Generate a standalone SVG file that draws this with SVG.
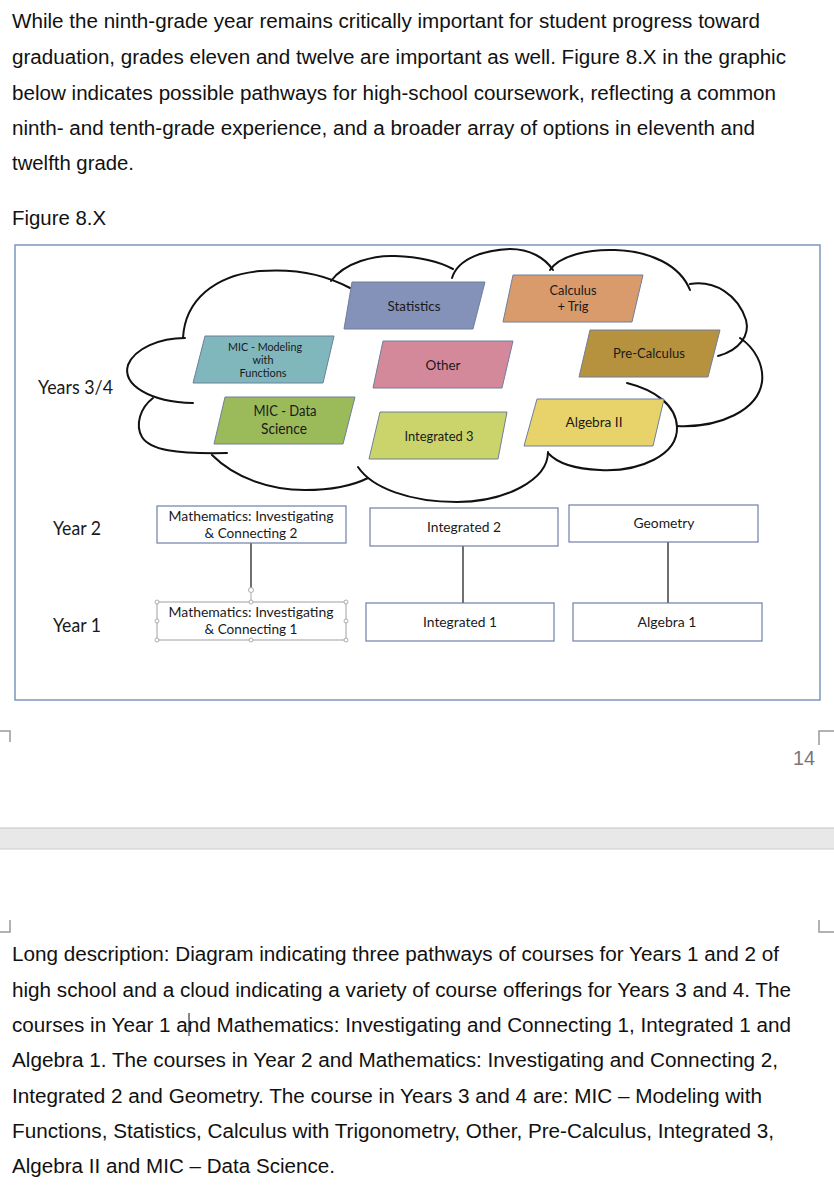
<svg xmlns="http://www.w3.org/2000/svg" width="834" height="1200" viewBox="0 0 834 1200">
<style>
.para{font-family:"Liberation Sans",Arial,sans-serif;font-size:20px;fill:#111}
.lbl{font-family:Lato,"Open Sans",sans-serif;fill:#1a1a1a;text-anchor:middle}
.year{font-family:Lato,"Open Sans",sans-serif;font-size:18.5px;fill:#1a1a1a}
.cloud{fill:none;stroke:#111;stroke-width:2;stroke-linecap:round}
.pg{stroke:#6e7f9c;stroke-width:1}
.box{fill:#fff;stroke:#6f7fa8;stroke-width:1.2}
.conn{stroke:#333;stroke-width:1.4}
.mark{fill:none;stroke:#999;stroke-width:1.5}
.hdl{fill:#fff;stroke:#999;stroke-width:0.8}
</style>
<rect width="834" height="1200" fill="#fff"/>
<g id="intro">
<text class="para" x="12" y="28" textLength="748" lengthAdjust="spacingAndGlyphs">While the ninth-grade year remains critically important for student progress toward</text>
<text class="para" x="12" y="64" textLength="774" lengthAdjust="spacingAndGlyphs">graduation, grades eleven and twelve are important as well. Figure 8.X in the graphic</text>
<text class="para" x="12" y="100" textLength="764" lengthAdjust="spacingAndGlyphs">below indicates possible pathways for high-school coursework, reflecting a common</text>
<text class="para" x="12" y="135" textLength="743" lengthAdjust="spacingAndGlyphs">ninth- and tenth-grade experience, and a broader array of options in eleventh and</text>
<text class="para" x="12" y="170" textLength="122" lengthAdjust="spacingAndGlyphs">twelfth grade.</text>
<text class="para" x="12" y="225" textLength="94" lengthAdjust="spacingAndGlyphs">Figure 8.X</text>
</g>
<rect id="frame" x="15" y="245" width="805" height="455" fill="#fff" stroke="#7b97c0" stroke-width="1.5"/>
<g id="cloud">
<path class="cloud" d="M183,338 C185,300 215,275 260,271 C300,268 330,277 350,288"/>
<path class="cloud" d="M331,281 C345,262 375,255 395,256 C420,257 440,262 453,269"/>
<path class="cloud" d="M452,278 C458,258 485,250 510,249 C530,249 545,258 553,270"/>
<path class="cloud" d="M550,270 C560,255 590,249 615,250 C650,251 680,265 690,290"/>
<path class="cloud" d="M690,284 C715,280 738,295 746,320 C750,335 740,350 718,356"/>
<path class="cloud" d="M740,338 C755,348 764,365 762,382 C758,410 720,428 677,426"/>
<path class="cloud" d="M627,383 C655,390 676,405 677,427 C678,455 640,472 600,470 C575,469 557,463 548,453"/>
<path class="cloud" d="M548,452 C548,480 505,502 457,502 C410,502 372,488 358,467"/>
<path class="cloud" d="M212,455 C235,478 270,490 305,490 C330,490 352,486 368,478"/>
<path class="cloud" d="M153,398 C140,408 135,425 142,437 C150,450 175,454 227,453"/>
<path class="cloud" d="M185,338 C160,338 135,348 128,365 C122,385 150,402 193,403"/>
</g>
<g id="years">
<text class="year" x="38" y="394" textLength="75" lengthAdjust="spacingAndGlyphs">Years 3/4</text>
<text class="year" x="53" y="535" textLength="48" lengthAdjust="spacingAndGlyphs">Year 2</text>
<text class="year" x="53" y="632" textLength="48" lengthAdjust="spacingAndGlyphs">Year 1</text>
</g>
<g id="statistics">
<polygon class="pg" fill="#8491b9" points="352,282 485,282 473,329 344,329"/>
<text class="lbl" x="414" y="311" font-size="13.5" textLength="53" lengthAdjust="spacingAndGlyphs">Statistics</text>
</g>
<g id="calculus-trig">
<polygon class="pg" fill="#d99a6c" points="513,275 643,275 632,322 503,322"/>
<text class="lbl" x="573" y="295" font-size="13" textLength="47" lengthAdjust="spacingAndGlyphs">Calculus</text>
<text class="lbl" x="573" y="311" font-size="13" textLength="31" lengthAdjust="spacingAndGlyphs">+ Trig</text>
</g>
<g id="mic-modeling">
<polygon class="pg" fill="#7fb7bd" points="205,336 334,336 323,383 193,383"/>
<text class="lbl" x="265" y="351" font-size="11" textLength="74" lengthAdjust="spacingAndGlyphs">MIC - Modeling</text>
<text class="lbl" x="263" y="364" font-size="11" textLength="21" lengthAdjust="spacingAndGlyphs">with</text>
<text class="lbl" x="263" y="377" font-size="11" textLength="47" lengthAdjust="spacingAndGlyphs">Functions</text>
</g>
<g id="other">
<polygon class="pg" fill="#d4899b" points="383,341 513,341 502,388 373,388"/>
<text class="lbl" x="443" y="370" font-size="14" textLength="35" lengthAdjust="spacingAndGlyphs">Other</text>
</g>
<g id="pre-calculus">
<polygon class="pg" fill="#b6923f" points="590,330 720,330 708,377 579,377"/>
<text class="lbl" x="649" y="358" font-size="13.5" textLength="72" lengthAdjust="spacingAndGlyphs">Pre-Calculus</text>
</g>
<g id="mic-data">
<polygon class="pg" fill="#9bbb5a" points="225,397 355,397 343,444 214,444"/>
<text class="lbl" x="285" y="416" font-size="14.5" textLength="63" lengthAdjust="spacingAndGlyphs">MIC - Data</text>
<text class="lbl" x="284" y="434" font-size="14.5" textLength="46" lengthAdjust="spacingAndGlyphs">Science</text>
</g>
<g id="integrated-3">
<polygon class="pg" fill="#cbd46b" points="380,412 507,412 498,459 369,459"/>
<text class="lbl" x="439" y="441" font-size="13.5" textLength="69" lengthAdjust="spacingAndGlyphs">Integrated 3</text>
</g>
<g id="algebra-2">
<polygon class="pg" fill="#e8d36b" points="537,399 664,399 653,446 524,446"/>
<text class="lbl" x="594" y="427" font-size="13.5" textLength="57" lengthAdjust="spacingAndGlyphs">Algebra II</text>
</g>
<g id="connectors">
<line class="conn" x1="251" y1="543" x2="251" y2="591"/>
<line x1="251" y1="593" x2="251" y2="602" stroke="#aaa" stroke-width="1"/>
<line class="conn" x1="463" y1="546" x2="463" y2="603"/>
<line class="conn" x1="668" y1="542" x2="668" y2="603"/>
</g>
<g id="mic2">
<rect class="box" x="157" y="506" width="189" height="37"/>
<text class="lbl" x="251" y="521" font-size="13" textLength="165" lengthAdjust="spacingAndGlyphs">Mathematics: Investigating</text>
<text class="lbl" x="251" y="538" font-size="13" textLength="93" lengthAdjust="spacingAndGlyphs">&amp; Connecting 2</text>
</g>
<g id="integrated-2">
<rect class="box" x="370" y="508" width="188" height="38"/>
<text class="lbl" x="464" y="532" font-size="13" textLength="74" lengthAdjust="spacingAndGlyphs">Integrated 2</text>
</g>
<g id="geometry">
<rect class="box" x="569" y="505" width="189" height="37"/>
<text class="lbl" x="664" y="528" font-size="13" textLength="61" lengthAdjust="spacingAndGlyphs">Geometry</text>
</g>
<g id="mic1">
<rect x="157" y="602" width="189" height="38" fill="#fff" stroke="#a0a0a0" stroke-width="1"/>
<text class="lbl" x="251" y="617" font-size="13" textLength="165" lengthAdjust="spacingAndGlyphs">Mathematics: Investigating</text>
<text class="lbl" x="251" y="634" font-size="13" textLength="93" lengthAdjust="spacingAndGlyphs">&amp; Connecting 1</text>
<circle class="hdl" cx="251" cy="590" r="2.5"/>
<circle class="hdl" cx="157" cy="602" r="2"/>
<circle class="hdl" cx="251" cy="602" r="2"/>
<circle class="hdl" cx="346" cy="602" r="2"/>
<circle class="hdl" cx="157" cy="621" r="2"/>
<circle class="hdl" cx="346" cy="621" r="2"/>
<circle class="hdl" cx="157" cy="640" r="2"/>
<circle class="hdl" cx="251" cy="640" r="2"/>
<circle class="hdl" cx="346" cy="640" r="2"/>
</g>
<g id="integrated-1">
<rect class="box" x="366" y="603" width="188" height="38"/>
<text class="lbl" x="460" y="627" font-size="13" textLength="74" lengthAdjust="spacingAndGlyphs">Integrated 1</text>
</g>
<g id="algebra-1">
<rect class="box" x="573" y="603" width="189" height="38"/>
<text class="lbl" x="667" y="627" font-size="13" textLength="59" lengthAdjust="spacingAndGlyphs">Algebra 1</text>
</g>
<g id="page-break">
<path class="mark" d="M0,731 H10 V742"/>
<path class="mark" d="M834,731 H819 V745"/>
<text x="815" y="765" font-family="'Liberation Sans',Arial,sans-serif" font-size="20" fill="#777" text-anchor="end" textLength="22" lengthAdjust="spacingAndGlyphs">14</text>
<rect x="0" y="828" width="834" height="21" fill="#e8e8e8"/>
<line x1="0" y1="828" x2="834" y2="828" stroke="#c4c4c4" stroke-width="1.2"/>
<line x1="0" y1="849" x2="834" y2="849" stroke="#cfcfcf" stroke-width="1"/>
<path class="mark" d="M0,932 H10 V920"/>
<path class="mark" d="M834,932 H819 V920"/>
</g>
<g id="description">
<text class="para" x="12" y="961" textLength="767" lengthAdjust="spacingAndGlyphs">Long description: Diagram indicating three pathways of courses for Years 1 and 2 of</text>
<text class="para" x="12" y="997" textLength="779" lengthAdjust="spacingAndGlyphs">high school and a cloud indicating a variety of course offerings for Years 3 and 4. The</text>
<text class="para" x="12" y="1032" textLength="779" lengthAdjust="spacingAndGlyphs">courses in Year 1 and Mathematics: Investigating and Connecting 1, Integrated 1 and</text>
<text class="para" x="12" y="1067" textLength="766" lengthAdjust="spacingAndGlyphs">Algebra 1. The courses in Year 2 and Mathematics: Investigating and Connecting 2,</text>
<text class="para" x="12" y="1103" textLength="750" lengthAdjust="spacingAndGlyphs">Integrated 2 and Geometry. The course in Years 3 and 4 are: MIC – Modeling with</text>
<text class="para" x="12" y="1138" textLength="762" lengthAdjust="spacingAndGlyphs">Functions, Statistics, Calculus with Trigonometry, Other, Pre-Calculus, Integrated 3,</text>
<text class="para" x="12" y="1173" textLength="323" lengthAdjust="spacingAndGlyphs">Algebra II and MIC – Data Science.</text>
<line x1="189" y1="1013" x2="189" y2="1036" stroke="#111" stroke-width="1"/>
</g>
</svg>
